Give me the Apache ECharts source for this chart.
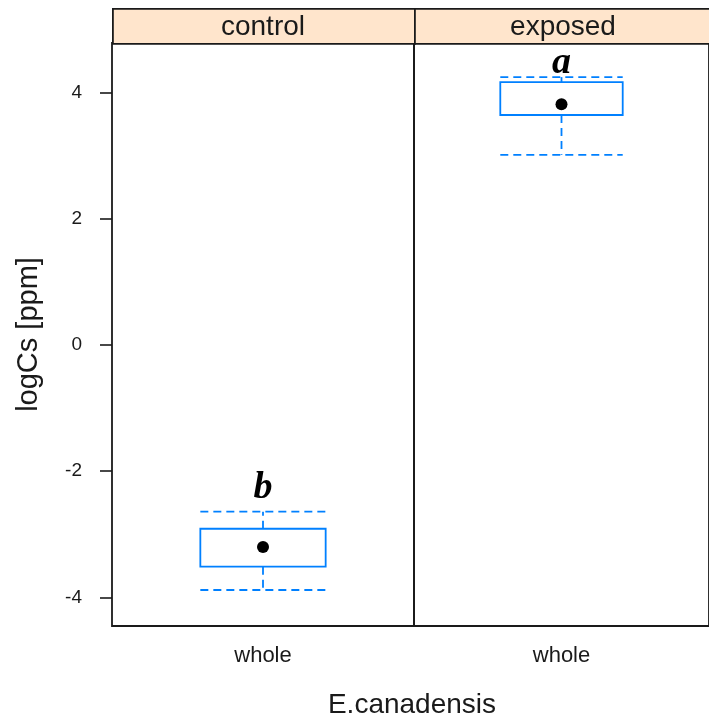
<!DOCTYPE html>
<html>
<head>
<meta charset="utf-8">
<script src="https://cdn.jsdelivr.net/npm/echarts@6/dist/echarts.min.js"></script>
<style>html,body{margin:0;padding:0;background:#fff;}#chart{width:709px;height:721px;}</style>
</head>
<body>
<div id="chart"></div>
<script>
// panels (conditioning levels)
const panels = ['control', 'exposed'];
const categories = ['whole'];
// box stats per panel: [lowerWhisker, Q1, median, Q3, upperWhisker]
const controlStats = [-3.88, -3.51, -3.20, -2.91, -2.64];
const exposedStats = [3.01, 3.64, 3.81, 4.16, 4.24];
// significance letters and the value of their baseline
const letters = ['b', 'a'];
const letterValues = [-2.36, 4.38];
const yTicks = [-4, -2, 0, 2, 4];
const yMin = -4.45, yMax = 4.78;

const BLUE = '#0080ff';
const statsByPanel = [controlStats, exposedStats];
const LETTER_SIZE = 38;

function renderBox(params, api) {
  const low = api.value(1), q1 = api.value(2), med = api.value(3), q3 = api.value(4), high = api.value(5), lv = api.value(6);
  const xc = api.coord([api.value(0), med])[0];
  const bw = api.size([1, 0])[0] * 0.415;
  const yl = api.coord([0, low])[1], y1 = api.coord([0, q1])[1], ym = api.coord([0, med])[1];
  const y3 = api.coord([0, q3])[1], yh = api.coord([0, high])[1];
  const yLetter = api.coord([0, lv])[1];
  const dash = {stroke: BLUE, lineWidth: 1.8, lineDash: [8, 5]};
  const letter = letters[params.seriesIndex];
  return {
    type: 'group',
    children: [
      {type: 'line', shape: {x1: xc, y1: y1, x2: xc, y2: yl}, style: dash},
      {type: 'line', shape: {x1: xc, y1: y3, x2: xc, y2: yh}, style: dash},
      {type: 'line', shape: {x1: xc - bw / 2, y1: yl, x2: xc + bw / 2, y2: yl}, style: dash},
      {type: 'line', shape: {x1: xc - bw / 2, y1: yh, x2: xc + bw / 2, y2: yh}, style: dash},
      {type: 'rect', shape: {x: xc - bw / 2, y: y3, width: bw, height: y1 - y3},
        style: {fill: '#fff', stroke: BLUE, lineWidth: 1.8}},
      {type: 'circle', shape: {cx: xc, cy: ym, r: 6}, style: {fill: '#000'}},
      {type: 'text', x: xc, y: yLetter - 0.14 * LETTER_SIZE, style: {
        text: letter, align: 'center', verticalAlign: 'middle',
        font: 'italic bold ' + LETTER_SIZE + 'px "Liberation Serif", serif', fill: '#000'}}
    ]
  };
}

const gridDefs = [{left: 112, width: 302}, {left: 414, width: 298}];
const grids = gridDefs.map(g => ({left: g.left, width: g.width, top: 43, bottom: 95,
  show: true, borderColor: '#1a1a1a', borderWidth: 1.8, backgroundColor: 'transparent'}));

const xAxes = gridDefs.map((g, i) => ({
  type: 'category', gridIndex: i, data: categories,
  axisLine: {show: false}, axisTick: {show: false},
  axisLabel: {margin: 19, fontSize: 22, color: '#1a1a1a', fontFamily: 'Liberation Sans, Arial'}
}));

const yAxes = gridDefs.map((g, i) => ({
  type: 'value', gridIndex: i, min: yMin, max: yMax,
  splitLine: {show: false},
  axisLine: {show: false},
  axisTick: {show: i === 0, length: 12, customValues: yTicks, lineStyle: {color: '#1a1a1a', width: 1.6}},
  axisLabel: {show: i === 0, customValues: yTicks, margin: 30, fontSize: 19, color: '#1a1a1a', fontFamily: 'Liberation Sans, Arial'},
  name: i === 0 ? 'logCs [ppm]' : '',
  nameLocation: 'middle', nameGap: 69,
  nameTextStyle: {fontSize: 29, color: '#1a1a1a', fontFamily: 'Liberation Sans, Arial'}
}));

const series = statsByPanel.map((s, i) => ({
  type: 'custom', xAxisIndex: i, yAxisIndex: i,
  renderItem: renderBox,
  data: [[0].concat(s, [letterValues[i]])],
  clip: false
}));

const graphics = [];
gridDefs.forEach((g, i) => {
  graphics.push({type: 'rect', left: g.left, top: 8, shape: {width: g.width, height: 35},
    style: {fill: '#ffe5cc', stroke: '#1a1a1a', lineWidth: 1.8}});
  graphics.push({type: 'text', x: g.left + g.width / 2, y: 27, style: {
    text: panels[i], align: 'center', verticalAlign: 'middle',
    font: '28px "Liberation Sans", Arial', fill: '#1a1a1a'}});
});

const chart = echarts.init(document.getElementById('chart'), null, {renderer: 'canvas'});
chart.setOption({
  animation: false,
  backgroundColor: '#fff',
  title: {text: 'E.canadensis', left: 412, top: 691, padding: 0, textAlign: 'center',
    textStyle: {fontSize: 28, fontWeight: 'normal', color: '#1a1a1a', fontFamily: 'Liberation Sans, Arial'}},
  grid: grids,
  xAxis: xAxes,
  yAxis: yAxes,
  series: series,
  graphic: graphics
});
</script>
</body>
</html>
